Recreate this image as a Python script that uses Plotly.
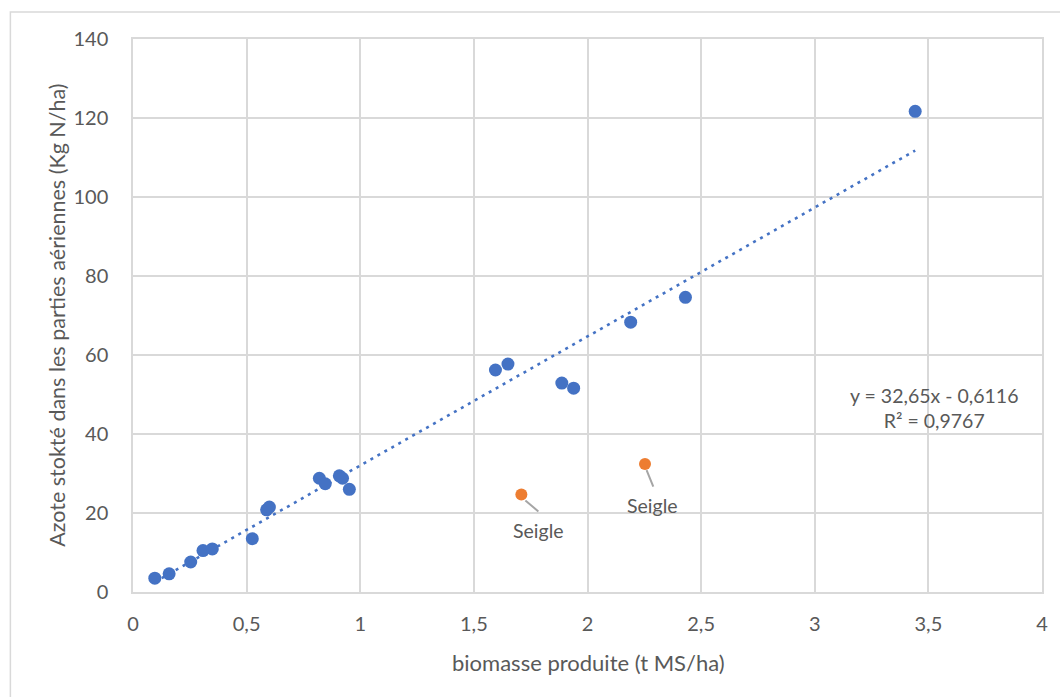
import plotly.graph_objects as go

# Data
blue_x = [0.096, 0.159, 0.254, 0.308, 0.349, 0.525, 0.588, 0.600, 0.820, 0.846,
          0.908, 0.922, 0.952, 1.595, 1.650, 1.887, 1.939, 2.190, 2.431, 3.442]
blue_y = [3.5, 4.6, 7.6, 10.5, 10.9, 13.5, 20.8, 21.5, 28.8, 27.4,
          29.4, 28.8, 26.0, 56.2, 57.7, 52.9, 51.6, 68.3, 74.6, 121.7]
seigle_x = [1.709, 2.253]
seigle_y = [24.7, 32.4]
seigle_labels = ["Seigle", "Seigle"]
slope = 32.65
intercept = -0.6116
r2_text = "R² = 0,9767"
eq_text = "y = 32,65x - 0,6116"
x_title = "biomasse produite (t MS/ha)"
y_title = "Azote stokté dans les parties aériennes (Kg N/ha)"

BLUE = "#4472C4"
ORANGE = "#ED7D31"
GRID = "#D9D9D9"
TXT = "#595959"
FONT = "Lato"

trend_x = [min(blue_x), max(blue_x)]
trend_y = [slope * v + intercept for v in trend_x]

fig = go.Figure()
fig.add_trace(go.Scatter(x=trend_x, y=trend_y, mode="lines",
                         line=dict(color=BLUE, width=2.6, dash="3px,5px"),
                         hoverinfo="skip", showlegend=False))
fig.add_trace(go.Scatter(x=blue_x, y=blue_y, mode="markers",
                         marker=dict(color=BLUE, size=13, line=dict(width=0)),
                         showlegend=False))

# label positions (pixel offsets of label centre) and leader-line pixel offsets
label_offsets = [(17, 36), (8, 41)]
leader_offsets = [((4, -6), (17, -17)), ((1.6, -6), (8.3, -22.5))]
for xv, yv, lab, (ax, ay), ((lx0, ly0), (lx1, ly1)) in zip(
        seigle_x, seigle_y, seigle_labels, label_offsets, leader_offsets):
    fig.add_shape(type="line", xref="x", yref="y",
                  xsizemode="pixel", ysizemode="pixel", xanchor=xv, yanchor=yv,
                  x0=lx0, y0=ly0, x1=lx1, y1=ly1,
                  line=dict(color="#A5A5A5", width=2))
    fig.add_annotation(x=xv, y=yv, text=lab, showarrow=True, arrowhead=0,
                       arrowwidth=1, arrowcolor="rgba(0,0,0,0)", ax=ax, ay=ay,
                       font=dict(family=FONT, size=19.5, color=TXT))

fig.add_trace(go.Scatter(x=seigle_x, y=seigle_y, mode="markers",
                         marker=dict(color=ORANGE, size=12, line=dict(width=0)),
                         showlegend=False))

fig.add_annotation(x=0.8816, y=0.333, xref="paper", yref="paper",
                   xanchor="center", yanchor="middle",
                   text=eq_text + "<br>" + r2_text, showarrow=False,
                   align="center", font=dict(family=FONT, size=19.5, color=TXT))

fig.add_annotation(x=0.501, y=-0.1266, xref="paper", yref="paper",
                   text=x_title, showarrow=False, xanchor="center", yanchor="middle",
                   font=dict(family=FONT, size=22, color=TXT))
fig.add_annotation(x=-0.0844, y=0.5, xref="paper", yref="paper",
                   text=y_title, showarrow=False, textangle=-90, xanchor="center",
                   yanchor="middle", font=dict(family=FONT, size=21.5, color=TXT))

# chart-area border
fig.add_shape(type="rect", xref="paper", yref="paper",
              x0=-0.1349, y0=-0.3, x1=1.2, y1=1.0488,
              line=dict(color=GRID, width=1.5), layer="below")

fig.update_layout(
    width=1060, height=697,
    margin=dict(l=133, r=15, t=39, b=105),
    paper_bgcolor="white", plot_bgcolor="white",
    separators=", ",
    font=dict(family=FONT, size=20, color=TXT),
    hovermode=False,
)
fig.update_xaxes(range=[0, 4], dtick=0.5, tick0=0, showgrid=True, gridcolor=GRID,
                 gridwidth=1.5, showline=True, linecolor=GRID, linewidth=1.5,
                 mirror=True, zeroline=False, ticks="", ticklabelstandoff=13,
                 tickfont=dict(family=FONT, size=20, color=TXT))
fig.update_yaxes(range=[0, 140], dtick=20, tick0=0, showgrid=True, gridcolor=GRID,
                 gridwidth=1.5, showline=True, linecolor=GRID, linewidth=1.5,
                 mirror=True, zeroline=False, ticks="", ticklabelstandoff=19,
                 tickfont=dict(family=FONT, size=20, color=TXT))

fig.write_html("out.html")
